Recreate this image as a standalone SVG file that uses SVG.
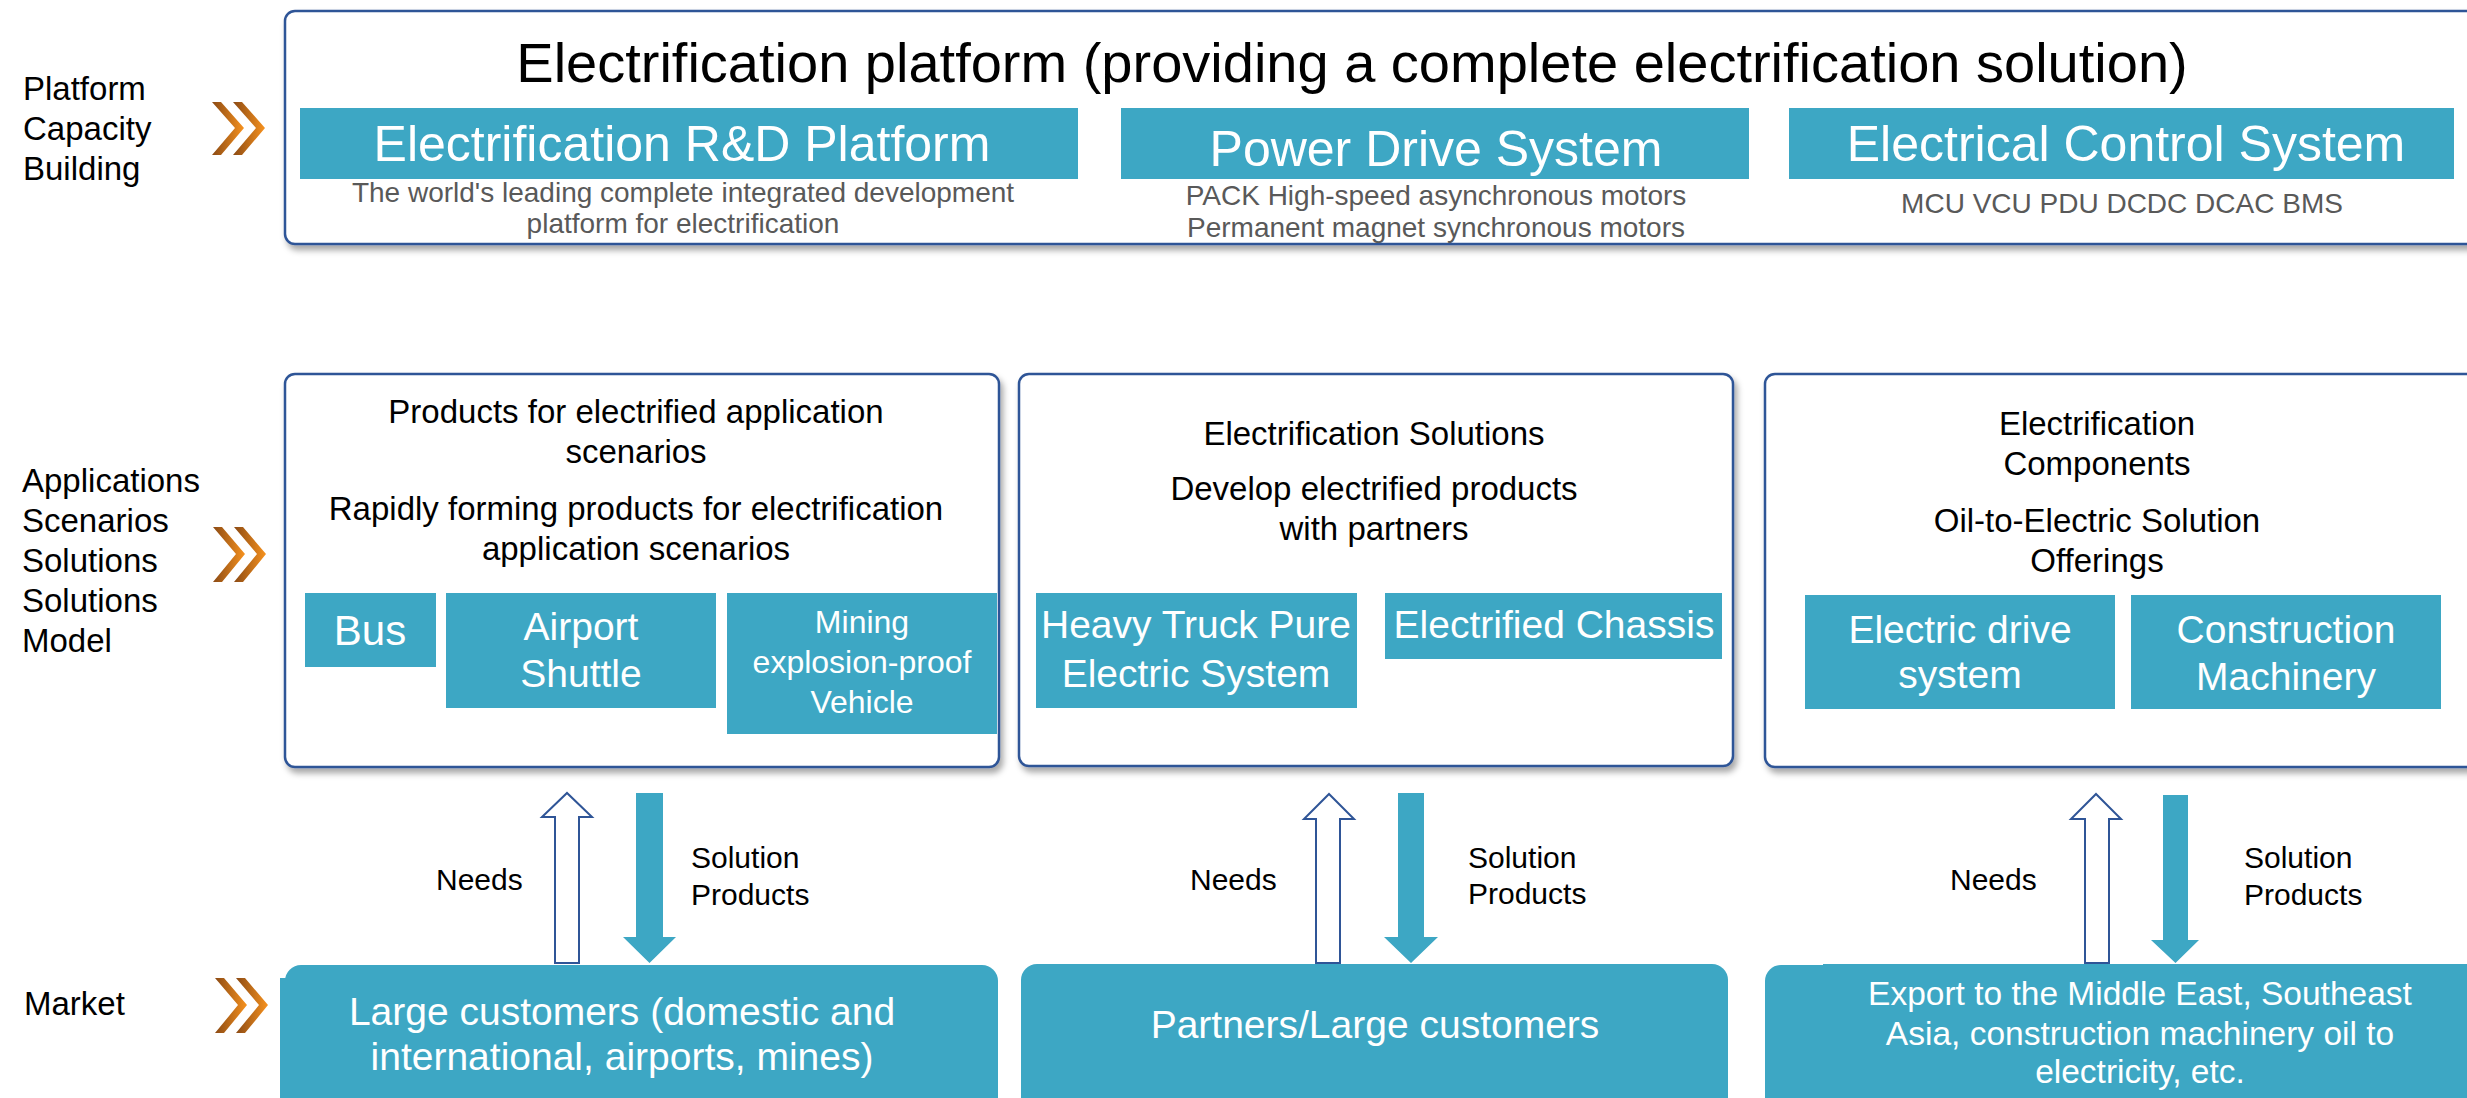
<svg xmlns="http://www.w3.org/2000/svg" xmlns:xlink="http://www.w3.org/1999/xlink" width="2467" height="1098" viewBox="0 0 2467 1098">
<defs>
  <linearGradient id="chevGrad" x1="0" y1="0" x2="1" y2="0">
    <stop offset="0" stop-color="#8B4A14"/>
    <stop offset="1" stop-color="#F7921E"/>
  </linearGradient>
  <filter id="shadow" x="-5%" y="-5%" width="115%" height="120%">
    <feDropShadow dx="3" dy="5" stdDeviation="3" flood-color="#000" flood-opacity="0.35"/>
  </filter>
  <g id="chev">
    <polygon points="0,0 9,0 32,26 9,53 0,53 23,26"/>
    <polygon points="21,0 30,0 53,26 30,53 21,53 44,26"/>
  </g>
</defs>
<style>
  text { font-family: "Liberation Sans", Arial, sans-serif; }
  .lbl { font-size: 33px; fill: #000; }
  .frame { fill: #fff; stroke: #2F5597; stroke-width: 2.5; filter: url(#shadow); }
  .teal { fill: #3DA7C4; }
  .wt { fill: #fff; text-anchor: middle; }
  .bk { fill: #000; text-anchor: middle; font-size: 33px; }
  .gray { fill: #595959; text-anchor: middle; font-size: 28px; }
  .hollow { fill: #fff; stroke: #2F5597; stroke-width: 2; }
  .solid { fill: #3DA7C4; }
  .al { font-size: 30px; fill: #000; }
  .chev { fill: url(#chevGrad); }
</style>

<g id="left-labels">
  <text class="lbl" x="23" y="100">Platform</text>
  <text class="lbl" x="23" y="140">Capacity</text>
  <text class="lbl" x="23" y="180">Building</text>
  <text class="lbl" x="22" y="492">Applications</text>
  <text class="lbl" x="22" y="532">Scenarios</text>
  <text class="lbl" x="22" y="572">Solutions</text>
  <text class="lbl" x="22" y="612">Solutions</text>
  <text class="lbl" x="22" y="652">Model</text>
  <text class="lbl" x="24" y="1015">Market</text>
</g>
<g id="chevrons" class="chev">
  <use xlink:href="#chev" href="#chev" transform="translate(212,102)"/>
  <use xlink:href="#chev" href="#chev" transform="translate(213,527) scale(1,1.04)"/>
  <use xlink:href="#chev" href="#chev" transform="translate(215,978) scale(1,1.04)"/>
</g>

<g id="platform">
  <rect class="frame" x="285" y="11" width="2220" height="233" rx="10"/>
  <text x="1352" y="82" font-size="56" text-anchor="middle" fill="#000">Electrification platform (providing a complete electrification solution)</text>
</g>
<g id="rd-platform">
  <rect class="teal" x="300" y="108" width="778" height="71"/>
  <text class="wt" x="682" y="161" font-size="50">Electrification R&amp;D Platform</text>
  <text class="gray" x="683" y="202">The world's leading complete integrated development</text>
  <text class="gray" x="683" y="233">platform for electrification</text>
</g>
<g id="power-drive">
  <rect class="teal" x="1121" y="108" width="628" height="71"/>
  <text class="wt" x="1436" y="166" font-size="50">Power Drive System</text>
  <text class="gray" x="1436" y="205">PACK High-speed asynchronous motors</text>
  <text class="gray" x="1436" y="237">Permanent magnet synchronous motors</text>
</g>
<g id="electrical-control">
  <rect class="teal" x="1789" y="108" width="665" height="71"/>
  <text class="wt" x="2126" y="161" font-size="50">Electrical Control System</text>
  <text class="gray" x="2122" y="213">MCU VCU PDU DCDC DCAC BMS</text>
</g>

<g id="app-products">
  <rect class="frame" x="285" y="374" width="714" height="393" rx="10"/>
  <text class="bk" x="636" y="423">Products for electrified application</text>
  <text class="bk" x="636" y="463">scenarios</text>
  <text class="bk" x="636" y="520">Rapidly forming products for electrification</text>
  <text class="bk" x="636" y="560">application scenarios</text>
  <g id="bus">
    <rect class="teal" x="305" y="593" width="131" height="74"/>
    <text class="wt" x="370" y="645" font-size="42">Bus</text>
  </g>
  <g id="airport-shuttle">
    <rect class="teal" x="446" y="593" width="270" height="115"/>
    <text class="wt" x="581" y="640" font-size="39">Airport</text>
    <text class="wt" x="581" y="687" font-size="39">Shuttle</text>
  </g>
  <g id="mining">
    <rect class="teal" x="727" y="593" width="270" height="141"/>
    <text class="wt" x="862" y="633" font-size="32">Mining</text>
    <text class="wt" x="862" y="673" font-size="32">explosion-proof</text>
    <text class="wt" x="862" y="713" font-size="32">Vehicle</text>
  </g>
</g>

<g id="solutions">
  <rect class="frame" x="1019" y="374" width="714" height="392" rx="10"/>
  <text class="bk" x="1374" y="445">Electrification Solutions</text>
  <text class="bk" x="1374" y="500">Develop electrified products</text>
  <text class="bk" x="1374" y="540">with partners</text>
  <g id="heavy-truck">
    <rect class="teal" x="1036" y="593" width="321" height="115"/>
    <text class="wt" x="1196" y="638" font-size="39">Heavy Truck Pure</text>
    <text class="wt" x="1196" y="687" font-size="39">Electric System</text>
  </g>
  <g id="chassis">
    <rect class="teal" x="1385" y="593" width="337" height="66"/>
    <text class="wt" x="1554" y="638" font-size="39">Electrified Chassis</text>
  </g>
</g>

<g id="components">
  <rect class="frame" x="1765" y="374" width="800" height="393" rx="10"/>
  <text class="bk" x="2097" y="435">Electrification</text>
  <text class="bk" x="2097" y="475">Components</text>
  <text class="bk" x="2097" y="532">Oil-to-Electric Solution</text>
  <text class="bk" x="2097" y="572">Offerings</text>
  <g id="electric-drive">
    <rect class="teal" x="1805" y="595" width="310" height="114"/>
    <text class="wt" x="1960" y="643" font-size="39">Electric drive</text>
    <text class="wt" x="1960" y="688" font-size="39">system</text>
  </g>
  <g id="construction">
    <rect class="teal" x="2131" y="595" width="310" height="114"/>
    <text class="wt" x="2286" y="643" font-size="39">Construction</text>
    <text class="wt" x="2286" y="690" font-size="39">Machinery</text>
  </g>
</g>

<g id="market-large">
  <rect class="teal" x="285" y="965" width="713" height="200" rx="16"/>
  <rect class="teal" x="280" y="978" width="30" height="130"/>
  <text class="wt" x="622" y="1025" font-size="39">Large customers (domestic and</text>
  <text class="wt" x="622" y="1070" font-size="39">international, airports, mines)</text>
</g>
<g id="market-partners">
  <rect class="teal" x="1021" y="964" width="707" height="200" rx="16"/>
  <text class="wt" x="1375" y="1038" font-size="39">Partners/Large customers</text>
</g>
<g id="market-export">
  <rect class="teal" x="1765" y="965" width="800" height="200" rx="16"/>
  <rect class="teal" x="1823" y="964" width="742" height="10"/>
  <text class="wt" x="2140" y="1005" font-size="33.5">Export to the Middle East, Southeast</text>
  <text class="wt" x="2140" y="1045" font-size="33.5">Asia, construction machinery oil to</text>
  <text class="wt" x="2140" y="1083" font-size="33.5">electricity, etc.</text>
</g>

<g id="connectors">
  <polygon class="hollow" points="555,963 555,817 542,817 567,793 592,817 579,817 579,963"/>
  <polygon class="solid" points="636,793 663,793 663,937 676,937 649.5,963 623,937 636,937"/>
  <text class="al" x="436" y="890">Needs</text>
  <text class="al" x="691" y="868">Solution</text>
  <text class="al" x="691" y="905">Products</text>

  <polygon class="hollow" points="1316,963 1316,819 1304,819 1329,794 1354,819 1340,819 1340,963"/>
  <polygon class="solid" points="1398,793 1424,793 1424,937 1438,937 1411,963 1384,937 1398,937"/>
  <text class="al" x="1190" y="890">Needs</text>
  <text class="al" x="1468" y="868">Solution</text>
  <text class="al" x="1468" y="904">Products</text>

  <polygon class="hollow" points="2085,963 2085,819 2071,819 2096,794 2121,819 2109,819 2109,963"/>
  <polygon class="solid" points="2163,795 2188,795 2188,940 2199,940 2175.5,963 2151,940 2163,940"/>
  <text class="al" x="1950" y="890">Needs</text>
  <text class="al" x="2244" y="868">Solution</text>
  <text class="al" x="2244" y="905">Products</text>
</g>
</svg>
